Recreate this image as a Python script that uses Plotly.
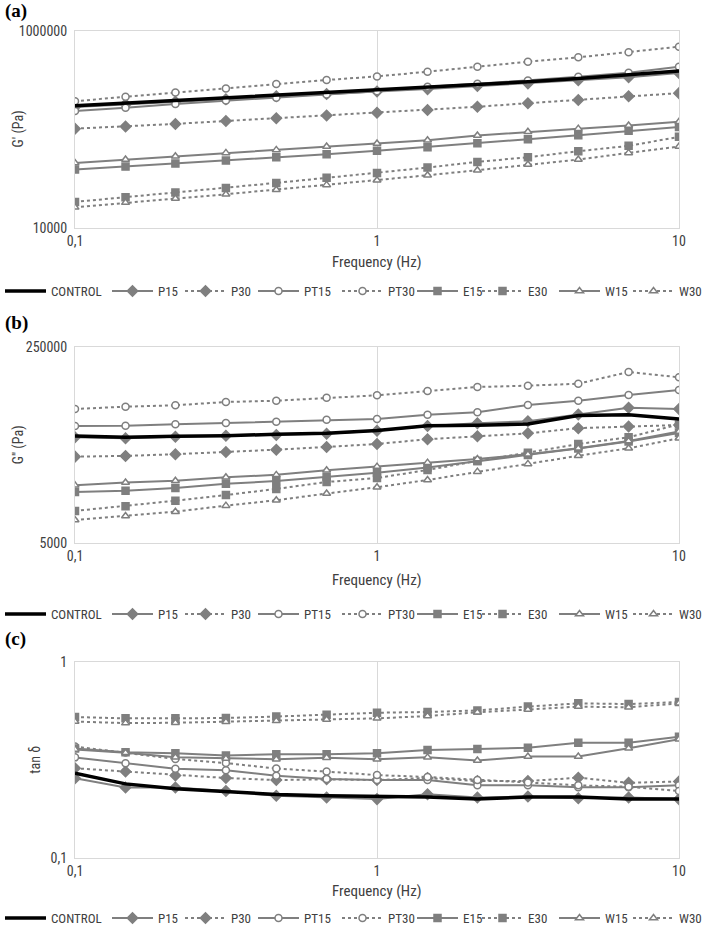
import plotly.graph_objects as go

# ---------------- data ----------------
freq = [0.1, 0.147, 0.215, 0.316, 0.464, 0.681, 1.0, 1.47, 2.15, 3.16, 4.64, 6.81, 10.0]
series_names = ["CONTROL", "P15", "P30", "PT15", "PT30", "E15", "E30", "W15", "W30"]

# (a) G' (Pa)
gp_control = [174000, 185000, 197000, 210000, 223000, 236000, 251000, 267000, 287000, 305000, 330000, 357000, 392000]
gp_p15 = [169000, 180000, 191000, 203000, 217000, 229000, 243000, 257000, 276000, 294000, 317000, 340000, 374000]
gp_p30 = [102000, 107000, 114000, 122000, 130000, 139000, 148000, 158000, 170000, 185000, 199000, 217000, 234000]
gp_pt15 = [154000, 166000, 182000, 197000, 210000, 227000, 245000, 272000, 291000, 315000, 343000, 377000, 434000]
gp_pt30 = [194000, 215000, 238000, 261000, 289000, 318000, 346000, 386000, 434000, 488000, 540000, 607000, 693000]
gp_e15 = [39200, 42000, 45100, 48400, 52300, 56100, 60700, 66100, 72600, 79700, 87600, 96900, 106000]
gp_e30 = [18400, 20500, 22900, 25500, 28700, 32300, 36200, 41100, 46900, 52300, 60200, 68200, 84200]
gp_w15 = [45800, 49500, 53600, 57900, 62100, 67200, 72000, 77900, 86900, 94700, 102000, 110000, 120000]
gp_w30 = [16200, 18100, 19900, 22000, 24500, 27400, 30500, 34300, 38600, 44100, 49500, 57900, 67200]

# (b) G'' (Pa)
gpp_control = [42600, 41500, 42300, 42800, 44100, 44900, 47600, 52300, 52700, 54100, 64100, 65000, 59800]
gpp_p15 = [41500, 40700, 42000, 42800, 43400, 44600, 47200, 52000, 54900, 57100, 65400, 74900, 73000]
gpp_p30 = [28200, 28600, 29600, 30900, 32400, 34200, 36300, 39900, 42300, 44900, 49800, 51500, 53000]
gpp_pt15 = [52000, 52300, 53800, 55200, 56700, 58900, 59800, 65200, 68300, 79100, 86100, 96500, 106600]
gpp_pt30 = [73000, 76400, 78600, 83900, 86100, 91500, 95900, 104500, 113200, 116200, 120900, 152700, 137400]
gpp_e15 = [13900, 14300, 15100, 16400, 17300, 18800, 20400, 22700, 25900, 29200, 33200, 38200, 45200]
gpp_e30 = [9540, 10500, 11700, 13100, 14800, 17000, 18400, 21600, 25900, 30500, 36300, 41500, 53600]
gpp_w15 = [15900, 16800, 17400, 18700, 19600, 21500, 23100, 25000, 26900, 29600, 33300, 38500, 46600]
gpp_w30 = [7970, 8630, 9400, 10600, 11800, 13500, 15300, 17700, 20900, 24400, 28700, 33300, 40700]

# (c) tan delta
td_control = [0.270, 0.238, 0.225, 0.218, 0.210, 0.207, 0.205, 0.204, 0.199, 0.204, 0.204, 0.199, 0.199]
td_p15 = [0.254, 0.228, 0.228, 0.219, 0.207, 0.203, 0.199, 0.211, 0.203, 0.205, 0.201, 0.203, 0.199]
td_p30 = [0.286, 0.275, 0.263, 0.255, 0.249, 0.251, 0.249, 0.255, 0.246, 0.246, 0.256, 0.241, 0.245]
td_pt15 = [0.325, 0.303, 0.284, 0.279, 0.262, 0.252, 0.249, 0.249, 0.234, 0.234, 0.229, 0.229, 0.234]
td_pt30 = [0.369, 0.344, 0.319, 0.304, 0.285, 0.275, 0.264, 0.258, 0.249, 0.242, 0.234, 0.230, 0.219]
td_e15 = [0.361, 0.345, 0.341, 0.332, 0.337, 0.337, 0.341, 0.354, 0.359, 0.364, 0.386, 0.386, 0.414]
td_e30 = [0.522, 0.514, 0.514, 0.516, 0.525, 0.537, 0.549, 0.554, 0.564, 0.590, 0.613, 0.608, 0.623]
td_w15 = [0.357, 0.343, 0.325, 0.321, 0.318, 0.324, 0.318, 0.325, 0.313, 0.328, 0.328, 0.362, 0.402]
td_w30 = [0.495, 0.486, 0.488, 0.494, 0.499, 0.507, 0.514, 0.528, 0.552, 0.570, 0.590, 0.585, 0.613]

x_tickvals = [0.1, 1, 10]
x_ticktext = ["0,1", "1", "10"]
ya_tickvals = [10000, 1000000]
ya_ticktext = ["10000", "1000000"]
yb_tickvals = [5000, 250000]
yb_ticktext = ["5000", "250000"]
yc_tickvals = [0.1, 1]
yc_ticktext = ["0,1", "1"]

# ---------------- styling ----------------
GRAY = "#7f7f7f"
TXT = "#404040"
FONT = "Liberation Sans Narrow, Roboto Condensed, Arial Narrow, Liberation Sans, sans-serif"
W, H = 706, 930
PLOT_L, PLOT_R = 75, 679

styles = {
    "CONTROL": dict(color="black", width=3.5, dash="solid", symbol=None, mfill=None, lw=51),
    "P15": dict(color=GRAY, width=2, dash="solid", symbol="diamond", mfill=GRAY, lw=17),
    "P30": dict(color=GRAY, width=2, dash="dot", symbol="diamond", mfill=GRAY, lw=17),
    "PT15": dict(color=GRAY, width=2, dash="solid", symbol="circle", mfill="white", lw=28),
    "PT30": dict(color=GRAY, width=2, dash="dot", symbol="circle", mfill="white", lw=19),
    "E15": dict(color=GRAY, width=2, dash="solid", symbol="square", mfill=GRAY, lw=9),
    "E30": dict(color=GRAY, width=2, dash="dot", symbol="square", mfill=GRAY, lw=21),
    "W15": dict(color=GRAY, width=2, dash="solid", symbol="triangle-up", mfill="white", lw=18),
    "W30": dict(color=GRAY, width=2, dash="dot", symbol="triangle-up", mfill="white", lw=22),
}

panels = [
    dict(data=[gp_control, gp_p15, gp_p30, gp_pt15, gp_pt30, gp_e15, gp_e30, gp_w15, gp_w30],
         top=31, bot=228, ytv=ya_tickvals, ytt=ya_ticktext, yr=[4, 6],
         ytitle="G' (Pa)", ytx=18, label="(a)", laby=11, xtitle_y=262, leg_y=291),
    dict(data=[gpp_control, gpp_p15, gpp_p30, gpp_pt15, gpp_pt30, gpp_e15, gpp_e30, gpp_w15, gpp_w30],
         top=347.3, bot=543.3, ytv=yb_tickvals, ytt=yb_ticktext, yr=[3.69897, 5.39794],
         ytitle="G'' (Pa)", ytx=18, label="(b)", laby=323, xtitle_y=580, leg_y=614),
    dict(data=[td_control, td_p15, td_p30, td_pt15, td_pt30, td_e15, td_e30, td_w15, td_w30],
         top=661.7, bot=857.7, ytv=yc_tickvals, ytt=yc_ticktext, yr=[-1, 0],
         ytitle="tan δ", ytx=35, label="(c)", laby=639, xtitle_y=891, leg_y=918),
]

def py(px):
    return 1 - px / H

def pxx(px):
    return px / W

fig = go.Figure()
layout = {}
annotations = []

for i, p in enumerate(panels):
    n = "" if i == 0 else str(i + 1)
    xa, ya = "x" + n, "y" + n
    leg = "legend" + n
    order = list(range(1, 9)) + [0]  # control drawn on top
    for k in order:
        name = series_names[k]
        s = styles[name]
        if s["symbol"] is None:
            marker = dict(size=1, color=s["color"])
            mode = "lines"
        else:
            marker = dict(symbol=s["symbol"], size=7 if s["symbol"] != "diamond" else 8,
                          color=s["mfill"], line=dict(color=s["color"], width=1.5))
            mode = "lines+markers"
        fig.add_trace(go.Scatter(
            x=freq, y=p["data"][k], name=name, mode=mode,
            line=dict(color=s["color"], width=s["width"], dash=s["dash"]),
            marker=marker, xaxis=xa, yaxis=ya, legend=leg, legendrank=k + 1,
            legendwidth=s["lw"], showlegend=True))
    layout["xaxis" + n] = dict(
        type="log", range=[-1, 1], domain=[PLOT_L / W, PLOT_R / W], anchor=ya,
        tickvals=x_tickvals, ticktext=x_ticktext, showgrid=True, gridcolor="#d9d9d9",
        gridwidth=1, showline=True, linecolor="#d9d9d9", linewidth=1, mirror=True,
        ticks="", zeroline=False, tickfont=dict(family=FONT, size=14, color=TXT),
        automargin=False)
    layout["yaxis" + n] = dict(
        type="log", range=p["yr"], domain=[py(p["bot"]), py(p["top"])], anchor=xa,
        tickvals=p["ytv"], ticktext=p["ytt"], showgrid=False, showline=True,
        linecolor="#d9d9d9", linewidth=1, mirror=True, ticks="", zeroline=False,
        tickfont=dict(family=FONT, size=14, color=TXT), ticklabelstandoff=4,
        automargin=False)
    layout[leg] = dict(
        orientation="h", x=-0.012, xanchor="left", xref="container",
        y=py(p["leg_y"]), yanchor="middle", yref="paper",
        font=dict(family=FONT, size=13, color=TXT), bgcolor="rgba(0,0,0,0)",
        itemwidth=41, tracegroupgap=0, traceorder="normal")
    annotations.append(dict(text="<b>" + p["label"] + "</b>", xref="paper", yref="paper",
                            x=pxx(3), y=py(p["laby"]), xanchor="left", yanchor="middle",
                            showarrow=False,
                            font=dict(family="Liberation Serif, Times New Roman, serif",
                                      size=19, color="black")))
    annotations.append(dict(text=p["ytitle"], xref="paper", yref="paper",
                            x=pxx(p["ytx"]), y=py((p["top"] + p["bot"]) / 2),
                            xanchor="center", yanchor="middle", textangle=-90,
                            showarrow=False, font=dict(family=FONT, size=14, color=TXT)))
    annotations.append(dict(text="Frequency (Hz)", xref="paper", yref="paper",
                            x=pxx(377), y=py(p["xtitle_y"]), xanchor="center",
                            yanchor="middle", showarrow=False,
                            font=dict(family=FONT, size=15, color=TXT)))

fig.update_layout(
    width=W, height=H, margin=dict(l=0, r=0, t=0, b=0, autoexpand=False),
    paper_bgcolor="white", plot_bgcolor="white", annotations=annotations,
    **layout)

fig.write_html("out.html", config={"displayModeBar": False},
               post_script="document.body.style.margin='0px';")
